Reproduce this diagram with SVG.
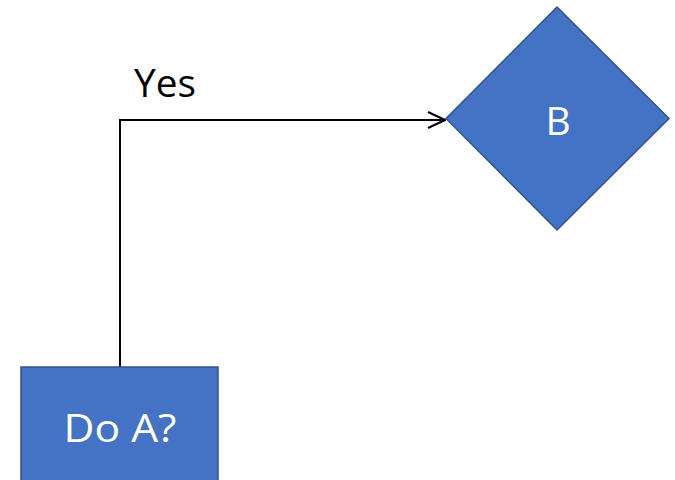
<svg xmlns="http://www.w3.org/2000/svg" width="675" height="480" viewBox="0 0 675 480">
  <style>
    .shape { fill: #4472C4; stroke: #2F528F; stroke-width: 1.5; }
    .label { fill: #FFFFFF; font-family: "Open Sans", "Liberation Sans", sans-serif; font-size: 39px; text-anchor: middle; }
    .edge { fill: none; stroke: #000000; stroke-width: 2; }
    .edge-label { fill: #000000; font-family: "Open Sans", "Liberation Sans", sans-serif; font-size: 39px; }
  </style>
  <defs>
    <marker id="arrow-open" viewBox="0 0 20 20" refX="19" refY="10" markerWidth="20" markerHeight="20" markerUnits="userSpaceOnUse" orient="auto">
      <path d="M2,2 L19,10 L2,18" fill="none" stroke="#000000" stroke-width="2"/>
    </marker>
  </defs>
  <rect width="675" height="480" fill="#FFFFFF"/>
  <g id="connectors">
    <path class="edge" d="M120,367 L120,120 L445,120" marker-end="url(#arrow-open)"/>
    <text class="edge-label" x="134" y="97" textLength="62" lengthAdjust="spacingAndGlyphs">Yes</text>
  </g>
  <g id="node-do-a">
    <rect class="shape" x="21" y="367" width="197" height="120"/>
    <text class="label" x="120" y="442" textLength="113" lengthAdjust="spacingAndGlyphs">Do A?</text>
  </g>
  <g id="node-b">
    <polygon class="shape" points="557,7 669,118.5 557,230 446,118.5"/>
    <text class="label" x="558" y="135">B</text>
  </g>
</svg>
